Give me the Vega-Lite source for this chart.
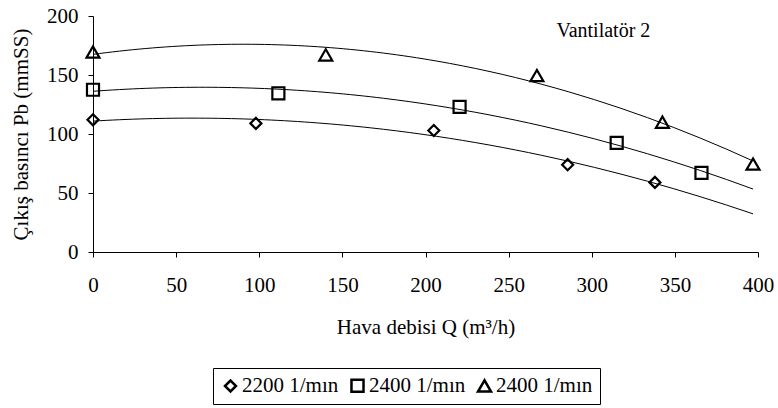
{
  "$schema": "https://vega.github.io/schema/vega-lite/v6.json",
  "autosize": "none",
  "width": 665,
  "height": 236,
  "padding": {"left": 93, "top": 16, "right": 20, "bottom": 156},
  "background": "white",
  "config": {
    "view": {"stroke": null},
    "font": "Liberation Serif",
    "axis": {
      "grid": false,
      "labelFlush": false,
      "domainColor": "black",
      "tickColor": "black",
      "tickSize": 5,
      "labelFont": "Liberation Serif",
      "labelFontSize": 21,
      "labelColor": "black",
      "titleFont": "Liberation Serif",
      "titleFontSize": 21,
      "titleFontWeight": "normal",
      "titleColor": "black"
    }
  },
  "datasets": {
    "olcum": [
      {"Q": 0, "Pb": 112, "seri": "A"},
      {"Q": 98, "Pb": 109, "seri": "A"},
      {"Q": 205, "Pb": 103, "seri": "A"},
      {"Q": 285.5, "Pb": 74, "seri": "A"},
      {"Q": 338, "Pb": 59, "seri": "A"},
      {"Q": 0, "Pb": 137.5, "seri": "B"},
      {"Q": 111.5, "Pb": 134.5, "seri": "B"},
      {"Q": 220.5, "Pb": 123, "seri": "B"},
      {"Q": 315, "Pb": 92.5, "seri": "B"},
      {"Q": 366, "Pb": 67, "seri": "B"},
      {"Q": 0, "Pb": 169.5, "seri": "C"},
      {"Q": 140, "Pb": 167, "seri": "C"},
      {"Q": 267, "Pb": 149.5, "seri": "C"},
      {"Q": 342.5, "Pb": 110, "seri": "C"},
      {"Q": 397, "Pb": 74.5, "seri": "C"}
    ],
    "etiket": [
      {"Q": 307, "Pb": 182.5, "metin": "Vantilatör 2"}
    ]
  },
  "layer": [
    {
      "data": {"name": "olcum"},
      "transform": [
        {"regression": "Pb", "on": "Q", "groupby": ["seri"], "method": "poly", "order": 2, "extent": [0, 397]}
      ],
      "mark": {"type": "line", "color": "black", "strokeWidth": 1},
      "encoding": {
        "x": {"field": "Q", "type": "quantitative"},
        "y": {"field": "Pb", "type": "quantitative"},
        "detail": {"field": "seri", "type": "nominal"}
      }
    },
    {
      "data": {"name": "olcum"},
      "mark": {"type": "point", "filled": false, "color": "black", "strokeWidth": 2.2, "opacity": 1},
      "encoding": {
        "x": {
          "field": "Q", "type": "quantitative",
          "scale": {"domain": [0, 400], "nice": false, "zero": false},
          "axis": {"values": [0, 50, 100, 150, 200, 250, 300, 350, 400], "labelPadding": 17, "title": "Hava debisi Q (m³/h)", "titleY": 81, "titleBaseline": "alphabetic"}
        },
        "y": {
          "field": "Pb", "type": "quantitative",
          "scale": {"domain": [0, 200], "nice": false},
          "axis": {"values": [0, 50, 100, 150, 200], "labelPadding": 10, "title": "Çıkış basıncı Pb (mmSS)", "titleX": -65.5, "titleBaseline": "alphabetic", "titleAngle": -90}
        },
        "shape": {
          "field": "seri", "type": "ordinal",
          "scale": {"domain": ["A", "B", "C"], "range": ["diamond", "square", "triangle-up"]},
          "legend": {
            "orient": "none",
            "legendX": 120,
            "legendY": 352,
            "direction": "horizontal",
            "title": null,
            "strokeColor": "black",
            "padding": 7,
            "labelFont": "Liberation Serif",
            "labelFontSize": 21,
            "labelColor": "black",
            "labelOffset": 1,
            "columnPadding": 7,
            "symbolStrokeWidth": 2.5,
            "symbolStrokeColor": "black",
            "symbolFillColor": "transparent",
            "labelExpr": "datum.value == 'A' ? '2200 1/mın' : '2400 1/mın'"
          }
        },
        "size": {
          "field": "seri", "type": "ordinal",
          "scale": {"domain": ["A", "B", "C"], "range": [121, 169, 196]}
        }
      }
    },
    {
      "data": {"name": "etiket"},
      "mark": {"type": "text", "font": "Liberation Serif", "fontSize": 20, "color": "black", "baseline": "alphabetic", "align": "center"},
      "encoding": {
        "x": {"field": "Q", "type": "quantitative"},
        "y": {"field": "Pb", "type": "quantitative"},
        "text": {"field": "metin"}
      }
    }
  ]
}
